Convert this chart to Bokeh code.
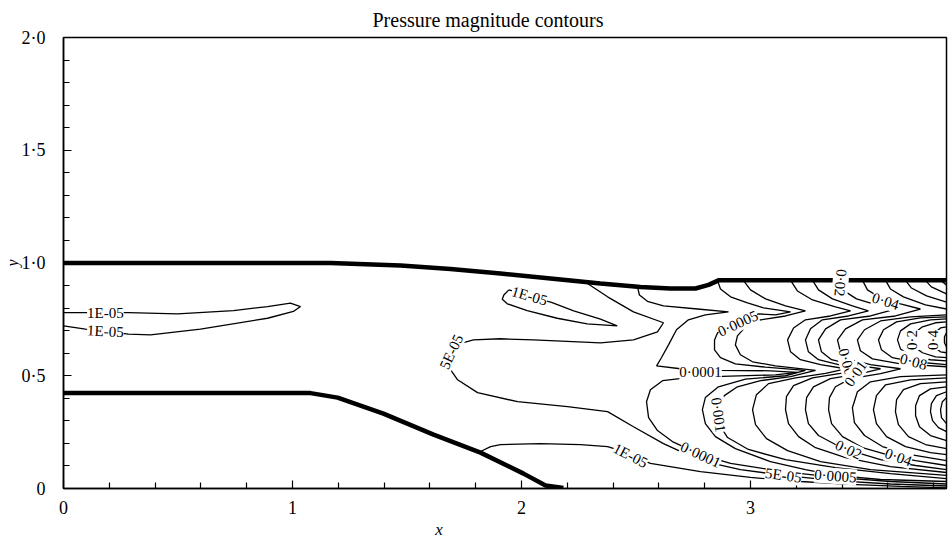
from bokeh.plotting import figure
from bokeh.models import Range1d, FixedTicker, LabelSet, ColumnDataSource
from bokeh.core.properties import value
from bokeh.embed import file_html
from bokeh.resources import INLINE

# ---------------- axes ----------------
x_ticks = [0, 1, 2, 3]
x_tick_labels = ["0", "1", "2", "3"]
x_minor = [0.2, 0.4, 0.6, 0.8, 1.2, 1.4, 1.6, 1.8, 2.2, 2.4, 2.6, 2.8, 3.2, 3.4, 3.6, 3.8]
y_ticks = [0, 0.5, 1, 1.5, 2]
y_tick_labels = ["0", "0·5", "1·0", "1·5", "2·0"]
y_minor = [0.1, 0.2, 0.3, 0.4, 0.6, 0.7, 0.8, 0.9, 1.1, 1.2, 1.3, 1.4, 1.6, 1.7, 1.8, 1.9]
x_label = "x"
y_label = "y"
title_text = "Pressure magnitude contours"

# ---------------- duct walls ----------------
wall_top_x = [0, 1.166, 1.472, 1.690, 1.908, 2.127, 2.345, 2.520, 2.651, 2.760, 2.817, 2.860, 3.856]
wall_top_y = [1.0, 1.0, 0.989, 0.973, 0.953, 0.931, 0.909, 0.894, 0.887, 0.887, 0.903, 0.923, 0.923]
wall_bot_x = [0, 1.079, 1.197, 1.397, 1.616, 1.821, 2.009, 2.105, 2.183]
wall_bot_y = [0.423, 0.423, 0.403, 0.332, 0.239, 0.159, 0.066, 0.013, 0.002]

# ---------------- contour lines ----------------
c1e5_left_x = [0, 0.284, 0.498, 0.742, 0.891, 0.991, 1.035, 1.004, 0.891, 0.598, 0.380, 0.284, 0.096, 0]
c1e5_left_y = [0.780, 0.780, 0.774, 0.789, 0.807, 0.822, 0.807, 0.785, 0.755, 0.707, 0.681, 0.685, 0.707, 0.721]

c1e5_mid_x = [1.945, 1.923, 1.916, 1.938, 2.025, 2.156, 2.287, 2.418, 2.345, 2.228, 2.134, 1.945]
c1e5_mid_y = [0.881, 0.858, 0.839, 0.819, 0.789, 0.755, 0.730, 0.721, 0.751, 0.788, 0.824, 0.881]

c1e5_low_x = [1.821, 1.865, 1.908, 2.083, 2.258, 2.376, 2.432, 2.563, 2.782, 3.000, 3.218, 3.437, 3.655, 3.856]
c1e5_low_y = [0.164, 0.186, 0.195, 0.199, 0.195, 0.186, 0.168, 0.111, 0.075, 0.049, 0.031, 0.018, 0.009, 0.003]

c5e5_x = [2.288, 2.376, 2.489, 2.620, 2.594, 2.489, 2.345, 2.052, 1.908, 1.790, 1.712, 1.694, 1.681, 1.690,
          1.721, 1.808, 1.983, 2.201, 2.376, 2.489, 2.620, 2.782, 2.956, 3.144, 3.371, 3.611, 3.856]
c5e5_y = [0.909, 0.850, 0.783, 0.735, 0.695, 0.659, 0.646, 0.659, 0.664, 0.659, 0.637, 0.606, 0.562, 0.527,
          0.482, 0.425, 0.385, 0.363, 0.341, 0.274, 0.199, 0.124, 0.084, 0.058, 0.035, 0.020, 0.011]

c1e4_x = [2.507, 2.515, 2.550, 2.620, 2.769, 2.904, 2.803, 2.729, 2.677, 2.642, 2.611, 2.590, 2.694, 2.869,
          3.087, 3.205, 3.109, 2.913, 2.738, 2.616, 2.563, 2.546, 2.555, 2.594, 2.659, 2.782, 2.913, 3.144,
          3.371, 3.611, 3.856]
c1e4_y = [0.892, 0.858, 0.830, 0.810, 0.796, 0.783, 0.770, 0.748, 0.704, 0.637, 0.580, 0.544, 0.531, 0.524,
          0.522, 0.515, 0.504, 0.498, 0.493, 0.478, 0.438, 0.385, 0.314, 0.257, 0.208, 0.150, 0.111, 0.075,
          0.049, 0.031, 0.020]

c5e4_x = [2.856, 2.869, 2.913, 2.987, 3.057, 3.175, 3.109, 3.035, 2.943, 2.856, 2.843, 2.843, 2.869, 2.934,
          3.066, 3.240, 3.153, 2.978, 2.860, 2.803, 2.790, 2.803, 2.847, 2.934, 3.087, 3.240, 3.371, 3.568, 3.856]
c5e4_y = [0.923, 0.885, 0.850, 0.823, 0.801, 0.783, 0.770, 0.774, 0.735, 0.690, 0.659, 0.615, 0.580, 0.553,
          0.538, 0.524, 0.500, 0.485, 0.451, 0.403, 0.350, 0.288, 0.230, 0.177, 0.119, 0.084, 0.058, 0.040, 0.031]

c1e3_x = [2.969, 3.000, 3.066, 3.153, 3.240, 3.153, 3.044, 2.978, 2.943, 2.934, 2.956, 3.009, 3.109, 3.284,
          3.175, 3.044, 2.943, 2.886, 2.852, 2.856, 2.900, 2.991, 3.153, 3.371, 3.611, 3.856]
c1e3_y = [0.923, 0.881, 0.841, 0.810, 0.788, 0.765, 0.748, 0.717, 0.677, 0.637, 0.593, 0.562, 0.544, 0.524,
          0.496, 0.478, 0.451, 0.412, 0.358, 0.296, 0.226, 0.173, 0.128, 0.093, 0.066, 0.044]

c5e3_x = [3.175, 3.205, 3.271, 3.371, 3.437, 3.349, 3.240, 3.188, 3.162, 3.175, 3.218, 3.306, 3.415, 3.328,
          3.197, 3.079, 3.026, 3.009, 3.022, 3.070, 3.162, 3.306, 3.524, 3.856]
c5e3_y = [0.923, 0.876, 0.836, 0.805, 0.788, 0.765, 0.748, 0.712, 0.659, 0.606, 0.571, 0.549, 0.531, 0.511,
          0.491, 0.465, 0.416, 0.350, 0.283, 0.221, 0.168, 0.119, 0.084, 0.058]

c1e2_x = [3.271, 3.297, 3.358, 3.445, 3.515, 3.428, 3.314, 3.262, 3.240, 3.253, 3.297, 3.384, 3.480, 3.393,
          3.271, 3.188, 3.157, 3.153, 3.166, 3.210, 3.284, 3.415, 3.611, 3.856]
c1e2_y = [0.923, 0.881, 0.841, 0.810, 0.788, 0.765, 0.748, 0.708, 0.659, 0.606, 0.571, 0.549, 0.531, 0.511,
          0.491, 0.456, 0.407, 0.350, 0.288, 0.230, 0.181, 0.137, 0.097, 0.071]

c2e2_x = [3.384, 3.402, 3.463, 3.550, 3.620, 3.524, 3.393, 3.328, 3.297, 3.310, 3.354, 3.445, 3.568, 3.480,
          3.349, 3.275, 3.245, 3.240, 3.253, 3.297, 3.371, 3.437, 3.568, 3.721, 3.856]
c2e2_y = [0.923, 0.881, 0.841, 0.814, 0.792, 0.765, 0.748, 0.708, 0.659, 0.606, 0.571, 0.549, 0.531, 0.509,
          0.487, 0.451, 0.403, 0.350, 0.288, 0.235, 0.195, 0.168, 0.128, 0.102, 0.084]

c4e2_x = [3.489, 3.511, 3.568, 3.655, 3.742, 3.633, 3.489, 3.415, 3.380, 3.393, 3.437, 3.524, 3.655, 3.568,
          3.437, 3.371, 3.345, 3.341, 3.354, 3.402, 3.489, 3.611, 3.721, 3.856]
c4e2_y = [0.923, 0.881, 0.845, 0.819, 0.796, 0.765, 0.748, 0.708, 0.659, 0.606, 0.571, 0.549, 0.531, 0.509,
          0.487, 0.451, 0.403, 0.350, 0.288, 0.230, 0.181, 0.146, 0.124, 0.102]

# arcs below the upper wall (higher levels)
top_arcs_xs = [[3.590, 3.611, 3.668, 3.764, 3.856],
               [3.677, 3.703, 3.769, 3.856],
               [3.764, 3.790, 3.856],
               [3.830, 3.856]]
top_arcs_ys = [[0.923, 0.885, 0.850, 0.814, 0.796],
               [0.923, 0.889, 0.854, 0.827],
               [0.923, 0.894, 0.863],
               [0.923, 0.903]]

# inner contours of the middle lobe
mid_c_xs = [[3.856, 3.699, 3.568, 3.498, 3.467, 3.480, 3.533, 3.655, 3.856],
            [3.856, 3.742, 3.638, 3.581, 3.559, 3.572, 3.620, 3.712, 3.856],
            [3.856, 3.786, 3.699, 3.655, 3.642, 3.655, 3.699, 3.786, 3.856],
            [3.856, 3.808, 3.751, 3.716, 3.707, 3.716, 3.751, 3.808, 3.856],
            [3.856, 3.830, 3.803, 3.795, 3.803, 3.830, 3.856],
            [3.856, 3.847, 3.847, 3.856]]
mid_c_ys = [[0.770, 0.761, 0.743, 0.704, 0.659, 0.611, 0.575, 0.553, 0.540],
            [0.761, 0.757, 0.739, 0.704, 0.659, 0.615, 0.580, 0.562, 0.549],
            [0.752, 0.748, 0.730, 0.699, 0.659, 0.619, 0.588, 0.571, 0.566],
            [0.739, 0.735, 0.717, 0.690, 0.659, 0.628, 0.602, 0.584, 0.580],
            [0.717, 0.712, 0.690, 0.659, 0.628, 0.606, 0.602],
            [0.690, 0.673, 0.646, 0.628]]

# inner contours of the lower lobe
bot_c_xs = [[3.856, 3.655, 3.524, 3.467, 3.445, 3.454, 3.498, 3.576, 3.699, 3.856],
            [3.856, 3.699, 3.590, 3.550, 3.537, 3.550, 3.594, 3.677, 3.786, 3.856],
            [3.856, 3.742, 3.668, 3.638, 3.633, 3.646, 3.690, 3.764, 3.856],
            [3.856, 3.786, 3.738, 3.721, 3.721, 3.738, 3.786, 3.856],
            [3.856, 3.812, 3.790, 3.786, 3.795, 3.821, 3.856],
            [3.856, 3.838, 3.830, 3.834, 3.856]]
bot_c_ys = [[0.504, 0.496, 0.473, 0.429, 0.358, 0.292, 0.235, 0.186, 0.150, 0.124],
            [0.491, 0.482, 0.460, 0.412, 0.350, 0.288, 0.230, 0.186, 0.159, 0.150],
            [0.473, 0.465, 0.438, 0.394, 0.341, 0.283, 0.230, 0.195, 0.177],
            [0.451, 0.442, 0.412, 0.367, 0.323, 0.274, 0.235, 0.212],
            [0.429, 0.412, 0.376, 0.341, 0.301, 0.270, 0.252],
            [0.403, 0.385, 0.350, 0.314, 0.288]]

# ---------------- contour labels ----------------
lab_text = ["1E-05", "1E-05", "1E-05", "5E-05", "1E-05", "0·0001", "5E-05", "0·0005", "0·0001", "0·0005",
            "0·001", "0·02", "0·04", "0·2", "0·4", "0·08", "0·005", "0·01", "0·02", "0·04"]
lab_x = [0.183, 0.183, 2.035, 1.694, 2.476, 2.782, 3.144, 3.371, 2.782, 2.945,
         2.860, 3.393, 3.590, 3.707, 3.795, 3.712, 3.424, 3.459, 3.428, 3.646]
lab_y = [0.779, 0.697, 0.854, 0.606, 0.146, 0.150, 0.058, 0.055, 0.518, 0.732,
         0.327, 0.912, 0.830, 0.659, 0.659, 0.562, 0.545, 0.510, 0.172, 0.139]
lab_angle = [0, -3, -16, 65, -27, -25, -8, -4, 0, 25,
             -82, -95, -17, 90, 90, -15, -75, 55, -25, -20]

SERIF = "Liberation Serif"

p = figure(width=950, height=541, x_range=Range1d(0, 3.856), y_range=Range1d(0, 2.0),
           output_backend="svg", toolbar_location=None,
           min_border_left=63, min_border_right=4, min_border_top=37, min_border_bottom=52)
p.xgrid.visible = False
p.ygrid.visible = False
p.background_fill_color = "white"
p.border_fill_color = "white"
p.outline_line_color = "black"
p.outline_line_width = 1.5

p.title.text = title_text
p.title.align = "left"
p.title.offset = 309
p.title.standoff = 13
p.title.text_font = SERIF
p.title.text_font_style = "normal"
p.title.text_font_size = "20px"
p.title.text_color = "black"

p.xaxis.ticker = FixedTicker(ticks=x_ticks, minor_ticks=x_minor)
p.xaxis.major_label_overrides = dict(zip(x_ticks, x_tick_labels))
p.yaxis.ticker = FixedTicker(ticks=y_ticks, minor_ticks=y_minor)
p.yaxis.major_label_overrides = dict(zip(y_ticks, y_tick_labels))
for ax in (p.xaxis[0], p.yaxis[0]):
    ax.axis_line_color = "black"
    ax.axis_line_width = 1.5
    ax.major_tick_in = 8
    ax.major_tick_out = 0
    ax.minor_tick_in = 6
    ax.minor_tick_out = 0
    ax.major_tick_line_color = "black"
    ax.minor_tick_line_color = "black"
    ax.major_tick_line_width = 1.2
    ax.minor_tick_line_width = 1.2
    ax.major_label_text_font = SERIF
    ax.major_label_text_font_size = "18px"
    ax.major_label_text_color = "black"
    ax.axis_label_text_font = SERIF
    ax.axis_label_text_font_style = "italic"
    ax.axis_label_text_color = "black"
p.xaxis.axis_label_text_font_size = "17px"
p.yaxis.axis_label_text_font_size = "16px"
p.xaxis.major_label_standoff = 12
p.yaxis.major_label_standoff = 18
# the x label sits left of the frame centre in the reference: pad with no-break spaces
p.xaxis.axis_label = x_label + "\u00a0" * 31
p.xaxis.axis_label_standoff = 3
p.yaxis.axis_label = y_label
p.yaxis.axis_label_standoff = -2

LW = 1.3
for xs, ys in [(c1e5_left_x, c1e5_left_y), (c1e5_mid_x, c1e5_mid_y), (c1e5_low_x, c1e5_low_y),
               (c5e5_x, c5e5_y), (c1e4_x, c1e4_y), (c5e4_x, c5e4_y), (c1e3_x, c1e3_y),
               (c5e3_x, c5e3_y), (c1e2_x, c1e2_y), (c2e2_x, c2e2_y), (c4e2_x, c4e2_y)]:
    p.line(xs, ys, line_color="black", line_width=LW)
p.multi_line(top_arcs_xs, top_arcs_ys, line_color="black", line_width=LW)
p.multi_line(mid_c_xs, mid_c_ys, line_color="black", line_width=LW)
p.multi_line(bot_c_xs, bot_c_ys, line_color="black", line_width=LW)

p.line(wall_top_x, wall_top_y, line_color="black", line_width=4.5)
p.line(wall_bot_x, wall_bot_y, line_color="black", line_width=4.5)

src = ColumnDataSource(dict(x=lab_x, y=lab_y, text=lab_text, angle=lab_angle))
p.add_layout(LabelSet(x="x", y="y", text="text", angle="angle", angle_units="deg", source=src,
                      text_align="center", text_baseline="middle", text_font=value(SERIF),
                      text_font_size=value("15px"), text_color="black",
                      background_fill_color="white"))

open("out.html", "w").write(file_html(p, INLINE))
